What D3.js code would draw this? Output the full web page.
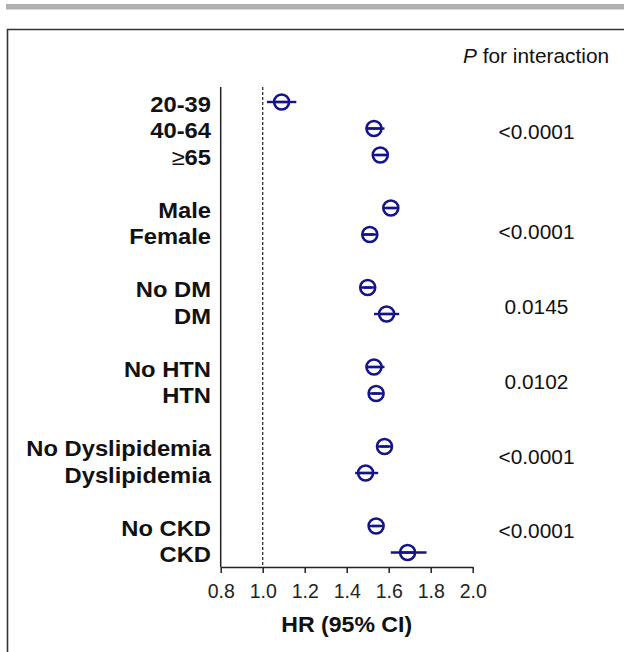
<!DOCTYPE html>
<html><head><meta charset="utf-8">
<script src="https://cdn.jsdelivr.net/npm/d3@7"></script>
<style>html,body{margin:0;padding:0;background:#fff;}svg{display:block;}</style>
</head><body>
<script>
const labels = ["20-39","40-64","≥65","Male","Female","No DM","DM","No HTN","HTN","No Dyslipidemia","Dyslipidemia","No CKD","CKD"];
const rowIndex = [0,1,2,4,5,7,8,10,11,13,14,16,17];
const hr   = [1.09,1.53,1.56,1.61,1.51,1.50,1.59,1.53,1.54,1.58,1.49,1.54,1.69];
const lo   = [1.02,1.49,1.54,1.59,1.48,1.48,1.53,1.49,1.52,1.56,1.44,1.52,1.61];
const hi   = [1.16,1.58,1.59,1.64,1.53,1.52,1.65,1.58,1.56,1.60,1.55,1.56,1.78];
const pValues = ["<0.0001","<0.0001","0.0145","0.0102","<0.0001","<0.0001"];
const pRow = [1.14,4.89,7.72,10.55,13.38,16.2];
const xTicks = [0.8,1.0,1.2,1.4,1.6,1.8,2.0];
const refValue = 1.0;

const W=624,H=652;
const FONT="'Liberation Sans', Arial, sans-serif";
const svg=d3.select("body").append("svg").attr("width",W).attr("height",H);
const navy="#14148a";
const boldSize="22px";
const sx=1.08;

// frame
svg.append("rect").attr("x",6).attr("y",4).attr("width",W-6).attr("height",5.5).attr("fill","#b0b0b0");
svg.append("path").attr("d",`M7.5,${H} V29.5 H${W}`).attr("fill","none").attr("stroke","#333").attr("stroke-width",1.6);

const x=d3.scaleLinear().domain([0.8,2.0]).range([220.7,472.7]);
const y=d3.scaleLinear().domain([0,17]).range([102,552.5]);
const axisY=567;
const topY=87;

// x axis
const xa=svg.append("g").attr("transform",`translate(0,${axisY})`)
  .call(d3.axisBottom(x).tickValues(xTicks).tickFormat(d3.format(".1f")).tickSize(6).tickSizeOuter(0));
xa.select(".domain").attr("stroke","#222").attr("stroke-width",1.5);
xa.selectAll(".tick line").attr("stroke","#222").attr("stroke-width",1.5);
xa.selectAll(".tick text").attr("font-family",FONT).attr("font-size","19.5px").attr("fill","#222").attr("y",17).attr("dy","0.72em");

// y axis line
svg.append("line").attr("x1",x(0.8)).attr("x2",x(0.8)).attr("y1",topY).attr("y2",axisY).attr("stroke","#222").attr("stroke-width",1.5);

// reference dashed line
svg.append("line").attr("x1",x(refValue)).attr("x2",x(refValue)).attr("y1",topY).attr("y2",axisY)
  .attr("stroke","#333").attr("stroke-width",1.3).attr("stroke-dasharray","3,2");

// labels
labels.forEach((l,i)=>{
  const t=svg.append("text").attr("transform",`translate(211,${y(rowIndex[i])+9.5}) scale(${sx},1)`)
    .attr("text-anchor","end").attr("font-family",FONT)
    .attr("font-size",boldSize).attr("font-weight","bold").attr("fill","#111");
  if(l.startsWith("≥")){
    t.append("tspan").attr("font-weight","normal").text("≥");
    t.append("tspan").text(l.slice(1));
  } else t.text(l);
});

// CI lines and markers
const r=7.5;
const g=svg.append("g");
labels.forEach((l,i)=>{
  const cy=y(rowIndex[i]), cx=x(hr[i]);
  g.append("line").attr("x1",x(lo[i])).attr("x2",x(hi[i])).attr("y1",cy).attr("y2",cy).attr("stroke",navy).attr("stroke-width",2.4);
  g.append("line").attr("x1",cx-r).attr("x2",cx+r).attr("y1",cy).attr("y2",cy).attr("stroke",navy).attr("stroke-width",2.4);
  g.append("circle").attr("cx",cx).attr("cy",cy).attr("r",r).attr("fill","none").attr("stroke",navy).attr("stroke-width",2.6);
});

// P values
const pt=svg.append("text").attr("transform",`translate(463,63) scale(1.07,1)`)
  .attr("font-family",FONT).attr("font-size","19.5px").attr("fill","#111");
pt.append("tspan").attr("font-style","italic").text("P");
pt.append("tspan").text(" for interaction");

pValues.forEach((p,i)=>{
  svg.append("text").attr("transform",`translate(536.5,${y(pRow[i])+7}) scale(1.07,1)`)
    .attr("text-anchor","middle").attr("font-family",FONT)
    .attr("font-size","19.5px").attr("fill","#111").text(p);
});

// axis title
svg.append("text").attr("transform",`translate(${(x(0.8)+x(2.0))/2},632) scale(1.05,1)`)
  .attr("text-anchor","middle").attr("font-family",FONT)
  .attr("font-size","22px").attr("font-weight","bold").attr("fill","#111").text("HR (95% CI)");
</script>
</body></html>
